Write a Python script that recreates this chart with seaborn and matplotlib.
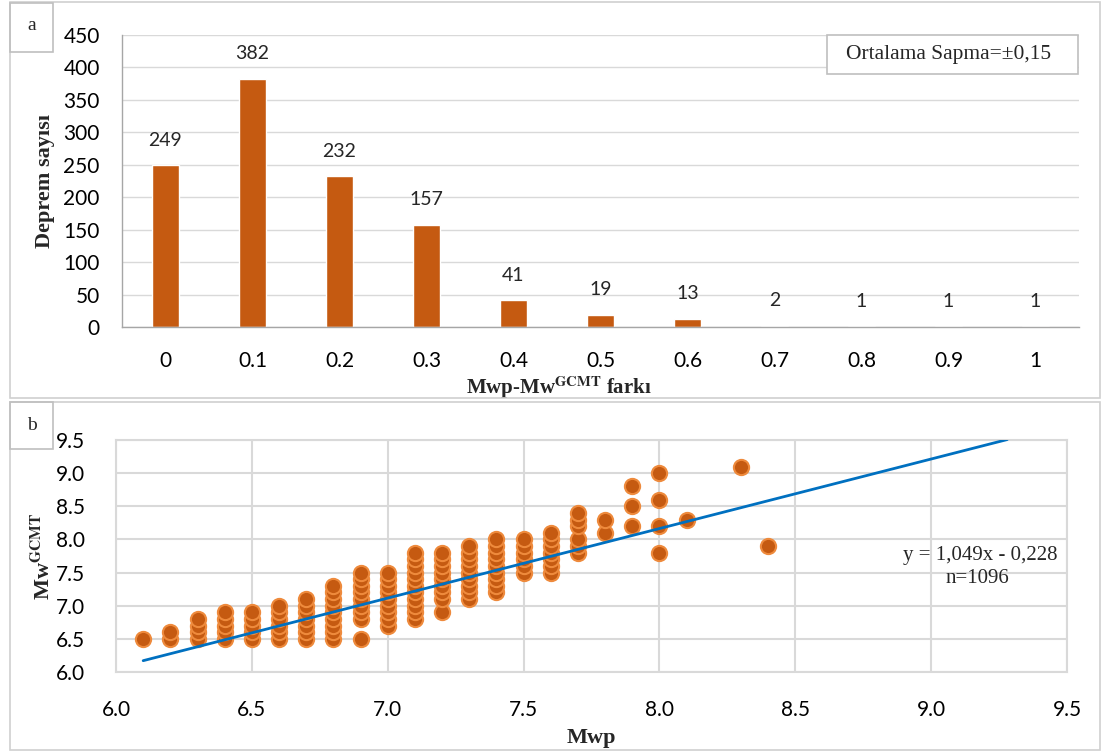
import numpy as np
import matplotlib
matplotlib.use("Agg")
import matplotlib.pyplot as plt
from matplotlib.patches import Rectangle
import seaborn as sns

# (a) histogram of Mwp - Mw(GCMT) differences
diff_labels = ["0", "0.1", "0.2", "0.3", "0.4", "0.5", "0.6", "0.7", "0.8", "0.9", "1"]
diff_counts = [249, 382, 232, 157, 41, 19, 13, 2, 1, 1, 1]

# (b) Mwp vs Mw(GCMT) -- one entry per visible marker position
mwp_pts = ([6.1] + [6.2] * 2 + [6.3] * 4 + [6.4] * 5 + [6.5] * 5 + [6.6] * 6
           + [6.7] * 7 + [6.8] * 9 + [6.9] * 9 + [7.0] * 9 + [7.1] * 11
           + [7.2] * 9 + [7.3] * 9 + [7.4] * 9 + [7.5] * 6 + [7.6] * 7
           + [7.7] * 6 + [7.8] * 2 + [7.9] * 3 + [8.0] * 4 + [8.1] + [8.3] + [8.4])
mw_pts = ([6.5]
          + [6.5, 6.6]
          + [6.5, 6.6, 6.7, 6.8]
          + [6.5, 6.6, 6.7, 6.8, 6.9]
          + [6.5, 6.6, 6.7, 6.8, 6.9]
          + [6.5, 6.6, 6.7, 6.8, 6.9, 7.0]
          + [6.5, 6.6, 6.7, 6.8, 6.9, 7.0, 7.1]
          + [6.5, 6.6, 6.7, 6.8, 6.9, 7.0, 7.1, 7.2, 7.3]
          + [6.5, 6.8, 6.9, 7.0, 7.1, 7.2, 7.3, 7.4, 7.5]
          + [6.7, 6.8, 6.9, 7.0, 7.1, 7.2, 7.3, 7.4, 7.5]
          + [6.8, 6.9, 7.0, 7.1, 7.2, 7.3, 7.4, 7.5, 7.6, 7.7, 7.8]
          + [6.9, 7.1, 7.2, 7.3, 7.4, 7.5, 7.6, 7.7, 7.8]
          + [7.1, 7.2, 7.3, 7.4, 7.5, 7.6, 7.7, 7.8, 7.9]
          + [7.2, 7.3, 7.4, 7.5, 7.6, 7.7, 7.8, 7.9, 8.0]
          + [7.5, 7.6, 7.7, 7.8, 7.9, 8.0]
          + [7.5, 7.6, 7.7, 7.8, 7.9, 8.0, 8.1]
          + [7.8, 7.9, 8.0, 8.2, 8.3, 8.4]
          + [8.1, 8.3]
          + [8.2, 8.5, 8.8]
          + [7.8, 8.2, 8.6, 9.0]
          + [8.3]
          + [9.1]
          + [7.9])

# Excel trendline shown on the chart
trend_slope = 1.049
trend_intercept = -0.228
trend_x = [6.1, 9.28]

bar_color = "#C55A11"
grid_color = "#D9D9D9"
serif = ["Liberation Serif", "DejaVu Serif"]

sns.set_theme(style="white")
plt.rcParams["font.family"] = ["Lato", "DejaVu Sans"]
plt.rcParams["mathtext.fontset"] = "stix"

W, H = 1105, 754
fig = plt.figure(figsize=(W / 100, H / 100), dpi=100)


def px_rect(x0, y0, x1, y1, **kw):
    # rectangle given in pixel coords (top-left origin)
    r = Rectangle((x0 / W, 1 - y1 / H), (x1 - x0) / W, (y1 - y0) / H,
                  transform=fig.transFigure, fill=False, **kw)
    fig.patches.append(r)


# panel frames and the little a / b boxes
px_rect(10, 2, 1100, 398, edgecolor="#D0D0D0", linewidth=1.2)
px_rect(10, 402, 1100, 750, edgecolor="#D0D0D0", linewidth=1.2)
px_rect(10, 3, 53, 52, edgecolor="#BFBFBF", linewidth=1.2)
px_rect(10, 402, 53, 449, edgecolor="#BFBFBF", linewidth=1.2)
fig.text(32 / W, 1 - 26 / H, "a", family=serif, fontsize=14, ha="center", va="center")
fig.text(32 / W, 1 - 425 / H, "b", family=serif, fontsize=14, ha="center", va="center")

# ---- panel a ----
ax1 = fig.add_axes([122 / W, 1 - 327 / H, 957 / W, 292 / H])
sns.barplot(x=diff_labels, y=diff_counts, color=bar_color, width=0.32,
            saturation=1, ax=ax1)
ax1.bar_label(ax1.containers[0], padding=12, fontsize=14)
ax1.set_ylim(0, 450)
ax1.set_yticks(range(0, 451, 50))
ax1.yaxis.grid(True, color=grid_color, linewidth=1)
ax1.set_axisbelow(True)
for s in ["top", "right"]:
    ax1.spines[s].set_visible(False)
for s in ["left", "bottom"]:
    ax1.spines[s].set_color("#A6A6A6")
    ax1.spines[s].set_linewidth(1)
ax1.tick_params(axis="both", labelsize=15, length=0, colors="black")
ax1.tick_params(axis="y", pad=16)
ax1.tick_params(axis="x", pad=17)
ax1.set_ylabel("Deprem sayısı", family=serif, fontsize=16, fontweight="bold")
ax1.yaxis.set_label_coords(-0.07, 0.5)
ax1.set_xlabel("Mwp-Mw$^{\\mathbf{GCMT}}$ farkı", family=serif, fontsize=15,
               fontweight="bold")
ax1.xaxis.set_label_coords(0.457, -0.162)

# "Ortalama Sapma" box
ax1.add_patch(Rectangle((0.737, 0.866), 0.262, 0.134, transform=ax1.transAxes,
                        facecolor="white", edgecolor="#BFBFBF", linewidth=1.2,
                        clip_on=False, zorder=5))
ax1.text(0.864, 0.933, "Ortalama Sapma=±0,15", transform=ax1.transAxes, family=serif,
         fontsize=15.5, ha="center", va="center", zorder=6)

# ---- panel b ----
ax2 = fig.add_axes([116 / W, 1 - 672 / H, 951 / W, 232 / H])
sns.scatterplot(x=mwp_pts, y=mw_pts, color=bar_color, edgecolor="#EE8A3C",
                linewidth=1.5, s=120, alpha=1, zorder=3, ax=ax2)
trend_y = [trend_slope * v + trend_intercept for v in trend_x]
sns.lineplot(x=trend_x, y=trend_y, color="#0070C0", linewidth=2, zorder=4, ax=ax2)
ax2.set_xlim(6.0, 9.5)
ax2.set_ylim(6.0, 9.5)
ticks_b = np.arange(6.0, 9.51, 0.5)
ax2.set_xticks(ticks_b)
ax2.set_yticks(ticks_b)
ax2.set_xticklabels([f"{v:.1f}" for v in ticks_b])
ax2.set_yticklabels([f"{v:.1f}" for v in ticks_b])
ax2.grid(True, color=grid_color, linewidth=1.5)
ax2.set_axisbelow(True)
for s in ax2.spines.values():
    s.set_color(grid_color)
    s.set_linewidth(1.5)
ax2.tick_params(axis="both", labelsize=15, length=0, colors="black")
ax2.tick_params(axis="y", pad=22)
ax2.tick_params(axis="x", pad=20)
ax2.set_xlabel("Mwp", family=serif, fontsize=16, fontweight="bold")
ax2.xaxis.set_label_coords(0.5, -0.24)
ax2.set_ylabel("Mw$^{\\mathbf{GCMT}}$", family=serif, fontsize=16, fontweight="bold")
ax2.yaxis.set_label_coords(-0.064, 0.5)
ax2.text(0.9895, 0.504, "y = 1,049x - 0,228", transform=ax2.transAxes, family=serif,
         fontsize=15, ha="right", va="center")
ax2.text(0.906, 0.405, "n=1096", transform=ax2.transAxes, family=serif,
         fontsize=15, ha="center", va="center")

fig.savefig("out.png", dpi=100)
